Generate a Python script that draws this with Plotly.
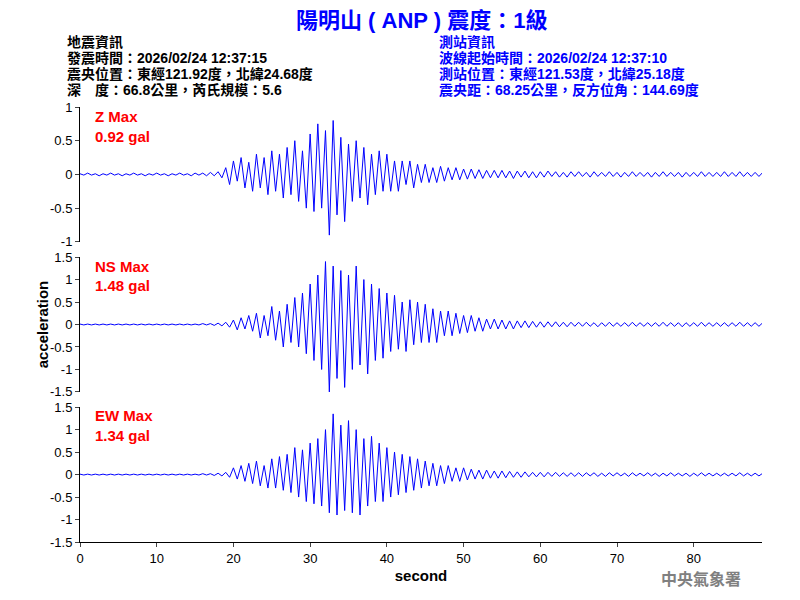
import numpy as np
import plotly.graph_objects as go
from plotly.subplots import make_subplots

dt = 0.5
z_vals = [0.01,-0.01,0.02,-0.01,0.01,-0.02,0.01,-0.01,0.02,-0.01,
 0.01,-0.02,0.01,-0.01,0.02,-0.01,0.01,-0.02,0.01,-0.01,
 0.02,-0.01,0.01,-0.02,0.01,-0.01,0.02,-0.01,0.01,-0.02,
 0.02,-0.01,0.02,-0.02,0.03,-0.02,0.04,-0.05,0.1,-0.15,
 0.2,-0.1,0.25,-0.2,0.18,-0.25,0.3,-0.2,0.25,-0.3,
 0.35,-0.25,0.3,-0.35,0.4,-0.3,0.5,-0.4,0.35,-0.5,
 0.6,-0.55,0.75,-0.5,0.65,-0.9,0.8,-0.6,0.55,-0.7,
 0.45,-0.4,0.5,-0.35,0.4,-0.45,0.3,-0.3,0.35,-0.25,
 0.3,-0.25,0.2,-0.25,0.2,-0.15,0.2,-0.2,0.15,-0.12,
 0.15,-0.12,0.1,-0.12,0.12,-0.1,0.1,-0.08,0.1,-0.08,
 0.08,-0.07,0.08,-0.06,0.07,-0.06,0.06,-0.05,0.06,-0.05,
 0.06,-0.05,0.05,-0.06,0.05,-0.04,0.05,-0.05,0.04,-0.05,
 0.04,-0.04,0.05,-0.03,0.04,-0.04,0.03,-0.04,0.04,-0.03,
 0.04,-0.03,0.03,-0.04,0.04,-0.03,0.03,-0.03,0.04,-0.03,
 0.03,-0.04,0.03,-0.03,0.04,-0.03,0.03,-0.03,0.03,-0.04,
 0.03,-0.03,0.04,-0.03,0.03,-0.03,0.03,-0.04,0.03,-0.03,
 0.03,-0.03,0.04,-0.03,0.03,-0.03,0.03,-0.03,0.04,-0.03,
 0.03,-0.03,0.04,-0.03,0.03,-0.03,0.03,-0.03,0.03,-0.03]
ns_vals = [0.01,-0.01,0.01,-0.01,0.01,-0.01,0.01,-0.01,0.01,-0.01,
 0.01,-0.01,0.01,-0.01,0.01,-0.01,0.01,-0.01,0.01,-0.01,
 0.01,-0.01,0.01,-0.01,0.01,-0.01,0.01,-0.01,0.01,-0.01,
 0.01,-0.01,0.02,-0.01,0.02,-0.02,0.03,-0.03,0.05,-0.06,
 0.1,-0.12,0.15,-0.1,0.2,-0.15,0.25,-0.3,0.2,-0.25,
 0.4,-0.35,0.3,-0.5,0.45,-0.4,0.6,-0.5,0.7,-0.65,
 0.9,-0.8,1.1,-1.0,1.4,-1.5,1.3,-1.2,1.2,-1.4,
 1.1,-1.0,1.3,-0.9,1.0,-1.1,0.9,-0.8,0.8,-0.75,
 0.7,-0.6,0.65,-0.55,0.5,-0.6,0.55,-0.45,0.5,-0.4,
 0.45,-0.4,0.35,-0.4,0.3,-0.25,0.3,-0.25,0.25,-0.2,
 0.2,-0.18,0.2,-0.15,0.15,-0.15,0.12,-0.1,0.12,-0.1,
 0.1,-0.1,0.08,-0.1,0.08,-0.07,0.08,-0.07,0.07,-0.06,
 0.06,-0.06,0.06,-0.05,0.06,-0.05,0.05,-0.05,0.05,-0.04,
 0.05,-0.04,0.05,-0.04,0.04,-0.05,0.04,-0.04,0.05,-0.04,
 0.04,-0.04,0.04,-0.04,0.05,-0.04,0.04,-0.04,0.04,-0.04,
 0.04,-0.04,0.05,-0.04,0.04,-0.04,0.04,-0.05,0.04,-0.04,
 0.04,-0.04,0.05,-0.04,0.04,-0.04,0.04,-0.04,0.04,-0.04,
 0.04,-0.04,0.05,-0.04,0.04,-0.04,0.04,-0.04,0.04,-0.04]
ew_vals = [0.01,-0.01,0.01,-0.01,0.01,-0.01,0.01,-0.01,0.01,-0.01,
 0.01,-0.01,0.01,-0.01,0.01,-0.01,0.01,-0.01,0.01,-0.01,
 0.01,-0.01,0.01,-0.01,0.01,-0.01,0.01,-0.01,0.01,-0.01,
 0.01,-0.01,0.02,-0.01,0.02,-0.02,0.03,-0.03,0.05,-0.06,
 0.15,-0.1,0.2,-0.15,0.25,-0.2,0.3,-0.25,0.2,-0.3,
 0.35,-0.3,0.4,-0.35,0.45,-0.4,0.6,-0.5,0.55,-0.6,
 0.7,-0.65,0.8,-0.7,1.0,-0.85,1.35,-0.9,1.1,-0.8,
 1.2,-0.85,1.0,-0.9,0.8,-0.7,0.85,-0.6,0.7,-0.6,
 0.6,-0.5,0.5,-0.45,0.45,-0.4,0.4,-0.35,0.35,-0.3,
 0.3,-0.25,0.25,-0.25,0.2,-0.2,0.2,-0.15,0.15,-0.15,
 0.15,-0.12,0.12,-0.1,0.1,-0.1,0.1,-0.08,0.08,-0.08,
 0.08,-0.07,0.07,-0.06,0.06,-0.06,0.06,-0.05,0.05,-0.05,
 0.05,-0.05,0.05,-0.04,0.05,-0.04,0.04,-0.04,0.04,-0.04,
 0.04,-0.04,0.04,-0.03,0.04,-0.04,0.03,-0.04,0.04,-0.03,
 0.04,-0.03,0.03,-0.04,0.04,-0.03,0.03,-0.03,0.04,-0.03,
 0.03,-0.04,0.03,-0.03,0.04,-0.03,0.03,-0.03,0.03,-0.04,
 0.03,-0.03,0.04,-0.03,0.03,-0.03,0.03,-0.03,0.03,-0.03,
 0.03,-0.03,0.04,-0.03,0.03,-0.03,0.03,-0.03,0.03,-0.03]
series = [("Z Max", "0.92 gal", z_vals, [-1, 1], [-1, -0.5, 0, 0.5, 1]),
          ("NS Max", "1.48 gal", ns_vals, [-1.5, 1.5], [-1.5, -1, -0.5, 0, 0.5, 1, 1.5]),
          ("EW Max", "1.34 gal", ew_vals, [-1.5, 1.5], [-1.5, -1, -0.5, 0, 0.5, 1, 1.5])]
x_ticks = [0, 10, 20, 30, 40, 50, 60, 70, 80]

FONT = "Liberation Sans, Noto Sans CJK TC"
fig = make_subplots(rows=3, cols=1, shared_xaxes=True, vertical_spacing=0.035)
for i, (name, val, vals, rng, ticks) in enumerate(series, start=1):
    t = np.arange(len(vals)) * dt
    fig.add_trace(go.Scatter(x=t, y=vals, mode="lines", line=dict(color="blue", width=1),
                             showlegend=False), row=i, col=1)
    fig.update_yaxes(range=rng, tickvals=ticks, ticktext=[f"{v:g}" for v in ticks],
                     showline=True, linecolor="black", ticks="outside", ticklen=4,
                     showgrid=False, zeroline=False, automargin=False, row=i, col=1)
    fig.update_xaxes(range=[0, 88.9], tickvals=x_ticks, showline=(i == 3), linecolor="black",
                     ticks="outside" if i == 3 else "", ticklen=4, showgrid=False,
                     showticklabels=(i == 3), zeroline=False, automargin=False, row=i, col=1)
fig.update_layout(yaxis=dict(domain=[0.69, 1.0]), yaxis2=dict(domain=[0.345, 0.655]),
                  yaxis3=dict(domain=[0.0, 0.31]))
fig.update_xaxes(title_text="<b>second</b>", title_font=dict(size=15), title_standoff=5, row=3, col=1)

ann = []
def a(x, y, text, color="black", size=14, bold=False, xanchor="left"):
    ann.append(dict(x=x, y=y, xref="paper", yref="paper", text=f"<b>{text}</b>" if bold else text,
                    showarrow=False, xanchor=xanchor, yanchor="middle",
                    font=dict(color=color, size=size, family=FONT)))
a(0.5, 1.2, "陽明山 ( ANP ) 震度：1級", "blue", 22, True, "center")
left = ["地震資訊", "發震時間：2026/02/24 12:37:15", "震央位置：東經121.92度，北緯24.68度",
        "深　度：66.8公里，芮氏規模：5.6"]
right = ["測站資訊", "波線起始時間：2026/02/24 12:37:10", "測站位置：東經121.53度，北緯25.18度",
         "震央距：68.25公里，反方位角：144.69度"]
for k, yy in enumerate([1.149, 1.112, 1.075, 1.038]):
    a(-0.022, yy, left[k], "black", 14, True)
    a(0.523, yy, right[k], "blue", 14, True)
for (name, val, *_), (y1, y2) in zip(series, [(0.979, 0.933), (0.634, 0.589), (0.290, 0.244)]):
    a(0.019, y1, name, "red", 15, True)
    a(0.019, y2, val, "red", 15, True)
a(0.91, -0.085, "中央氣象署", "gray", 16, True, "center")
ann.append(dict(x=-0.07, y=0.5, xref="paper", yref="paper", text="<b>acceleration</b>", textangle=-90,
                showarrow=False, font=dict(size=15, family=FONT, color="black")))
fig.update_layout(annotations=ann, width=800, height=600, plot_bgcolor="white", paper_bgcolor="white",
                  margin=dict(l=72, r=46, t=99, b=66, autoexpand=False),
                  font=dict(family=FONT, size=13, color="black"))
fig.write_html("out.html")
